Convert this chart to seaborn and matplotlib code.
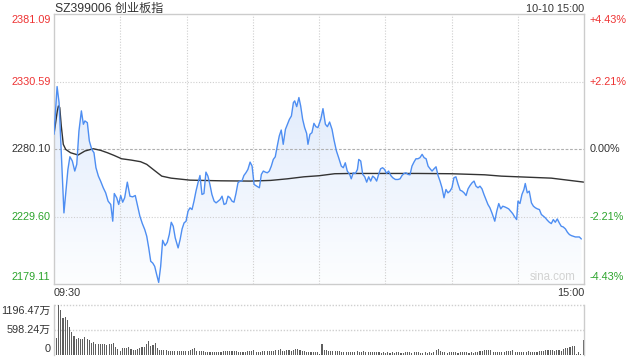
import numpy as np
import pandas as pd
import matplotlib
matplotlib.use("Agg")
import matplotlib.pyplot as plt
import seaborn as sns
from matplotlib.colors import LinearSegmentedColormap
from matplotlib.patches import PathPatch
from matplotlib.transforms import blended_transform_factory

# ---------------- data ----------------
title = "SZ399006 创业板指"
stamp = "10-10 15:00"
prev_close = 2280.10
price_ticks = [2381.09, 2330.59, 2280.10, 2229.60, 2179.11]
pct_labels = ["+4.43%", "+2.21%", "0.00%", "-2.21%", "-4.43%"]
vol_ticks = [1196.47, 598.24, 0]
vol_labels = ["1196.47万", "598.24万", "0"]
time_labels = ["09:30", "15:00"]

# minutes since 09:30 (trading minutes) and price readings
price_min = [0, 1.4, 2.3, 3.3, 4.5, 5.6, 6.3, 7.2, 8.3, 9.4, 10.3, 11.3, 12.4, 13.3, 14.0, 15.1,
             16.0, 17.1, 18.1, 19.0, 20.1, 21.1, 22.3, 23.4, 24.5, 25.7, 26.6, 27.3, 28.4, 29.3,
             30.2, 31.1, 32.0, 33.2, 34.4, 35.6, 36.8, 37.7, 38.9, 40.0, 41.1, 42.0, 42.9, 43.8,
             44.7, 45.6, 46.5, 47.4, 48.3, 49.2, 50.3, 51.3, 52.2, 53.1, 54.0, 54.9, 56.2, 57.1,
             58.0, 58.9, 59.8, 60.7, 61.6, 62.5, 63.4, 64.3, 65.2, 66.1, 67.0, 67.9, 68.8, 69.7,
             70.6, 71.5, 72.5, 73.4, 74.3, 75.2, 76.1, 77.0, 77.9, 78.8, 79.7, 80.6, 81.5, 82.4,
             83.3, 84.2, 85.1, 86.0, 86.9, 87.8, 88.8, 89.7, 90.6, 91.8, 93.0, 93.9, 94.8, 95.7,
             96.6, 97.5, 98.4, 99.3, 100.2, 101.1, 102.0, 102.9, 103.8, 104.8, 105.7, 106.6, 107.5,
             108.4, 109.0, 109.9, 110.9, 111.7, 112.6, 113.5, 114.4, 115.0, 115.9, 116.8, 117.7,
             118.6,
             119.5, 120.8, 121.8, 122.9, 123.8, 124.8, 125.9, 126.8, 127.9, 128.9, 130.1, 131.0,
             131.9, 132.8, 133.9, 134.6, 135.5, 136.5, 137.4, 138.0, 138.9, 139.8, 140.7, 141.6,
             142.5, 143.4, 144.3, 145.2, 146.1, 147.0, 147.9, 148.8, 149.7, 150.6, 151.5, 152.5,
             153.4, 154.6, 155.8, 156.7, 157.6, 158.5, 159.4, 160.3, 161.2, 162.1, 163.0, 163.9,
             164.8, 165.7, 166.7, 167.6, 168.5, 169.4, 170.3, 171.2, 172.1, 173.0, 173.9, 174.8,
             175.7, 176.6, 177.5, 178.4, 179.3, 180.2, 181.1, 182.0, 183.0, 183.9, 184.8, 185.7,
             186.6, 187.5, 188.4, 189.3, 190.2, 191.1, 192.0, 192.9, 193.8, 194.7, 195.6, 196.5,
             197.4, 198.3, 199.6, 200.5, 201.4, 202.3, 203.2, 204.1, 205.0, 205.9, 206.8, 207.7,
             208.6, 209.5, 210.1, 211.0, 211.9, 212.8, 213.4, 214.3, 215.2, 216.2, 217.1, 218.0,
             218.9, 219.8, 220.7, 221.6, 222.5, 223.4, 224.3, 225.2, 226.1, 227.0, 227.9, 228.8,
             229.7, 230.6, 231.6, 232.5, 233.4, 234.3, 235.2, 236.1, 237.0, 237.9, 238.8]
price = [2291.1, 2326.8, 2314.8, 2277.3, 2232.3, 2252.3, 2264.8, 2274.3, 2271.1, 2263.6, 2268.6,
         2293.6, 2308.6, 2298.6, 2301.1, 2299.8, 2286.1, 2279.8, 2277.3, 2266.1, 2259.8, 2256.1,
         2251.1, 2247.3, 2241.1, 2238.6, 2226.1, 2246.8, 2243.6, 2238.6, 2245.3, 2240.3, 2243.6,
         2255.3, 2244.8, 2244.3, 2245.3, 2238.6, 2229.8, 2224.3, 2219.8, 2214.8, 2206.1, 2196.1,
         2194.8, 2192.3, 2186.1, 2180.3, 2192.3, 2211.8, 2207.8, 2210.3, 2216.1, 2225.3, 2222.3,
         2213.6, 2206.1, 2212.3, 2220.3, 2224.8, 2226.1, 2233.6, 2236.1, 2234.8, 2241.1, 2248.6,
         2254.8, 2260.3, 2246.1, 2246.8, 2262.8, 2259.8, 2253.6, 2246.1, 2241.1, 2239.8, 2241.1,
         2242.3, 2244.8, 2238.6, 2239.3, 2244.8, 2243.6, 2241.1, 2240.3, 2246.8, 2254.8, 2256.1,
         2256.1, 2260.3, 2262.3, 2264.8, 2270.3, 2267.3, 2253.6, 2252.3, 2251.1, 2261.1, 2263.6,
         2262.8, 2262.3, 2263.6, 2267.3, 2272.3, 2274.3, 2282.3, 2289.8, 2294.3, 2283.6, 2294.8,
         2298.6, 2302.3, 2304.8, 2314.8, 2316.1, 2311.8, 2318.6, 2312.3, 2302.3, 2296.1, 2291.8,
         2283.6, 2291.1, 2292.3, 2299.3, 2296.8,
         2296.1, 2302.3, 2310.3, 2298.6, 2296.8, 2300.3, 2294.8, 2286.8, 2278.6, 2273.6, 2267.3,
         2266.1, 2269.8, 2263.6, 2261.1, 2257.8, 2262.3, 2261.8, 2264.8, 2272.3, 2271.1, 2261.1,
         2259.3, 2255.3, 2259.3, 2256.1, 2259.8, 2258.6, 2256.1, 2261.1, 2265.3, 2266.1, 2264.8,
         2261.8, 2263.6, 2260.3, 2258.6, 2257.3, 2257.3, 2257.8, 2260.3, 2261.8, 2262.3, 2261.1,
         2260.8, 2267.3, 2270.3, 2272.8, 2272.8, 2273.6, 2276.1, 2273.6, 2272.8, 2267.3, 2265.3,
         2263.6, 2265.3, 2266.8, 2260.3, 2256.1, 2251.1, 2243.6, 2249.8, 2247.3, 2248.6, 2251.1,
         2258.6, 2259.3, 2253.6, 2249.3, 2248.6, 2247.3, 2245.3, 2250.3, 2252.8, 2254.8, 2256.1,
         2252.3, 2251.1, 2252.3, 2250.3, 2246.1, 2242.3, 2238.6, 2236.1, 2232.3, 2226.1, 2233.6,
         2239.3, 2235.3, 2237.3, 2236.8, 2236.1, 2235.3, 2233.6, 2231.8, 2229.3, 2227.3, 2241.1,
         2239.3, 2246.1, 2249.8, 2254.3, 2247.3, 2248.6, 2239.8, 2237.3, 2236.1, 2235.3, 2234.8,
         2231.1, 2229.8, 2228.6, 2226.8, 2225.3, 2224.3, 2227.3, 2225.3, 2227.8, 2224.8, 2222.3,
         2221.8, 2220.3, 2217.8, 2216.1, 2215.3, 2214.8, 2214.3, 2214.3, 2214.3, 2212.8]

avg_min = [0, 1.5, 2.0, 2.6, 3.3, 4.2, 5.3, 7.5, 10.9, 14.0, 17.8, 21.1, 24.2, 27.2, 30.6, 35.0,
           39.2, 42.0, 45.3, 48.8, 53.0, 61.6, 75.5, 88.8, 98.1, 105.7, 113.2, 120.0, 127.1,
           134.6, 149.7, 164.8, 179.9, 195.0, 202.6, 210.1, 225.2, 240.0]
avg_price = [2291.1, 2308.6, 2312.3, 2311.1, 2297.3, 2283.6, 2279.8, 2277.3, 2275.6, 2278.6,
             2280.3, 2279.1, 2277.3, 2275.3, 2272.8, 2271.8, 2270.6, 2268.6, 2264.3, 2259.8,
             2258.3, 2256.8, 2256.3, 2256.1, 2256.6, 2257.8, 2259.3, 2260.1, 2261.6, 2261.8,
             2261.8, 2261.8, 2261.6, 2260.8, 2259.8, 2259.3, 2258.3, 2255.3]

# volume per minute, in 万
volume = [404, 1196, 1075, 889, 913, 833, 671, 542, 461, 372, 404, 380, 372, 420, 380, 348, 299,
          323, 259, 259, 259, 275, 259, 234, 259, 267, 299, 186, 146, 105, 178, 162, 178, 202,
          146, 129, 129, 146, 178, 202, 202, 267, 331, 218, 251, 299, 178, 129, 129, 129, 113,
          105, 105, 89, 89, 89, 105, 105, 105, 105, 89, 121, 146, 162, 105, 89, 105, 89, 65, 65,
          65, 65, 65, 65, 65, 65, 89, 89, 105, 105, 105, 105, 89, 65, 81, 81, 81, 105, 105, 105,
          129, 65, 65, 81, 89, 89, 89, 89, 105, 105, 129, 129, 146, 105, 89, 121, 121, 105, 121,
          146, 146, 121, 105, 89, 65, 81, 65, 81, 65, 81,
          24, 259, 129, 129, 89, 89, 105, 105, 89, 89, 81, 81, 81, 81, 81, 81, 65, 89, 65, 65, 89,
          81, 65, 65, 65, 65, 65, 65, 49, 65, 49, 65, 49, 65, 49, 65, 65, 49, 49, 65, 65, 65, 49,
          65, 65, 65, 49, 49, 65, 49, 65, 49, 65, 129, 146, 105, 65, 65, 49, 65, 65, 81, 65, 49,
          81, 81, 65, 65, 49, 65, 49, 65, 65, 89, 105, 121, 129, 129, 129, 81, 81, 65, 65, 65, 81,
          89, 105, 105, 129, 81, 81, 81, 81, 65, 65, 89, 65, 65, 81, 65, 89, 105, 105, 129, 129,
          129, 129, 105, 121, 129, 105, 146, 162, 178, 194, 210, 226, 32, 65, 24, 348]
vol_min = list(range(len(volume)))

# ---------------- style ----------------
RED = "#ee3333"
GREEN = "#2ca42c"
DARK = "#333333"
BLUE = "#4e8ef2"
GRID = "#cfcfcf"
SPINE = "#cccccc"

sns.set_theme(style="white")
plt.rcParams['font.family'] = ['Liberation Sans', 'Noto Sans CJK SC', 'DejaVu Sans']

fig = plt.figure(figsize=(6.4, 3.6), dpi=100)
fig.patch.set_facecolor("white")
ax = fig.add_axes([54 / 640, 1 - 284 / 360, 530 / 640, 270 / 360])
axv = fig.add_axes([54 / 640, 1 - 355 / 360, 530 / 640, 50 / 360])

ymin, ymax = price_ticks[-1], price_ticks[0]

# gradient fill under price line
poly = ax.fill_between(price_min, price, ymin, color="none", lw=0)
path = poly.get_paths()[0]
patch = PathPatch(path, transform=ax.transData, facecolor="none", edgecolor="none")
ax.add_patch(patch)
cmap = LinearSegmentedColormap.from_list("g", ["#d6e4fb", "#fdfeff"])
im = ax.imshow(np.linspace(0, 1, 256).reshape(-1, 1), cmap=cmap, aspect="auto",
               extent=[0, 240, ymin, ymax], origin="upper", zorder=0.5)
im.set_clip_path(patch)

# grid lines
for t in range(30, 240, 30):
    ax.axvline(t, color=GRID, lw=0.8, ls=(0, (1, 1.5)), zorder=0.6)
for p in [price_ticks[1], price_ticks[3]]:
    ax.axhline(p, color=GRID, lw=0.8, ls=(0, (1, 1.5)), zorder=0.6)
ax.axhline(prev_close, color="#b0b0b0", lw=0.8, ls=(0, (2.5, 1.5)), zorder=0.6)

# lines
sns.lineplot(x=price_min, y=price, ax=ax, color=BLUE, lw=1.0, estimator=None, sort=False,
             zorder=3)
sns.lineplot(x=avg_min, y=avg_price, ax=ax, color=DARK, lw=1.0, estimator=None, sort=False,
             zorder=2)

ax.set_xlim(0, 240)
ax.set_ylim(ymin, ymax)
ax.set_xticks([])
ax.set_yticks([])
ax.set_xlabel("")
ax.set_ylabel("")
for s in ax.spines.values():
    s.set_color(SPINE)
    s.set_linewidth(1.0)

# price labels (left) and percent labels (right)
tr_p = blended_transform_factory(ax.transAxes, ax.transData)
colors = [RED, RED, DARK, GREEN, GREEN]
vas = ["top", "center", "center", "center", "bottom"]
for p, pl, c, va in zip(price_ticks, pct_labels, colors, vas):
    yy = p
    if va == "top":
        yy = p - 1.0
    if va == "bottom":
        yy = p + 1.5
    ax.text(-3.5 / 530, yy, f"{p:.2f}", transform=tr_p, ha="right", va=va, color=c,
            fontsize=7.8)
    ax.text(1 + 6 / 530, yy, pl, transform=tr_p, ha="left", va=va, color=c, fontsize=7.8)

ax.text(0.985, ymin + 1.0, "sina.com", transform=tr_p, ha="right", va="bottom",
        color="#d2d2d2", fontsize=8.3)

# volume
sns.barplot(x=vol_min, y=volume, ax=axv, native_scale=True, color="#5e5e5e", width=0.5,
            errorbar=None, saturation=1, linewidth=0, antialiased=False, zorder=2)
axv.set_xlim(-1.1, 240.4)
axv.set_ylim(0, vol_ticks[0])
for v in vol_ticks[:2]:
    axv.axhline(v, color=GRID, lw=1.0, ls=(0, (1, 1.2)), zorder=1, clip_on=False)
axv.set_xticks([])
axv.set_yticks([])
axv.set_xlabel("")
axv.set_ylabel("")
axv.spines["top"].set_visible(False)
axv.spines["bottom"].set_visible(False)
for k in ["left", "right"]:
    axv.spines[k].set_color(SPINE)
    axv.spines[k].set_linewidth(1.0)

tr_v = blended_transform_factory(axv.transAxes, axv.transData)
axv.text(-3.5 / 530, vol_ticks[0] - 30, vol_labels[0], transform=tr_v, ha="right", va="top",
         color=DARK, fontsize=7.8)
axv.text(-3.5 / 530, vol_ticks[1], vol_labels[1], transform=tr_v, ha="right", va="center",
         color=DARK, fontsize=7.8)
axv.text(-3.5 / 530, vol_ticks[2] + 30, vol_labels[2], transform=tr_v, ha="right", va="bottom",
         color=DARK, fontsize=7.8)

# title and time labels
fig.text(55 / 640, 1 - 8.5 / 360, title, ha="left", va="center", color=DARK, fontsize=8.7)
fig.text(584 / 640, 1 - 8.5 / 360, stamp, ha="right", va="center", color=DARK, fontsize=7.8)
fig.text(54 / 640, 1 - 293.5 / 360, time_labels[0], ha="left", va="center", color=DARK,
         fontsize=7.8)
fig.text(584 / 640, 1 - 293.5 / 360, time_labels[1], ha="right", va="center", color=DARK,
         fontsize=7.8)

fig.savefig("out.png", dpi=100, facecolor="white")
